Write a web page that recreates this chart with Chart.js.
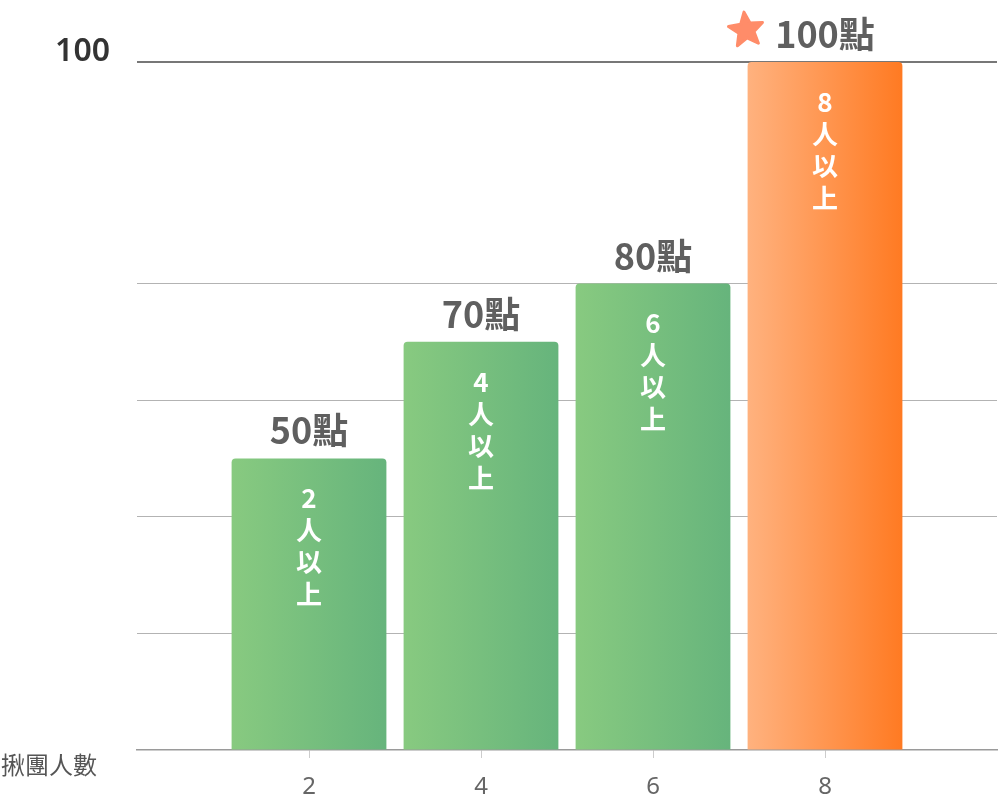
<!DOCTYPE html>
<html>
<head>
<meta charset="utf-8">
<script src="https://cdn.jsdelivr.net/npm/chart.js@4"></script>
<style>
html, body { margin: 0; background: #fff; }
#wrap { width: 1000px; height: 800px; }
</style>
</head>
<body>
<div id="wrap"><canvas id="chart" width="1000" height="800"></canvas></div>
<script>
// 揪團人數 / 點數
const groupSizes = [2, 4, 6, 8];
const points = [50, 70, 80, 100];
// 最後一根長條畫到頂線（圖上刻度是斷開的）
const barHeights = [50, 70, 80, 118];
const barTexts = [["2", "人", "以", "上"], ["4", "人", "以", "上"], ["6", "人", "以", "上"], ["8", "人", "以", "上"]];
const xTickValues = [2, 4, 6, 8];
const xTickLabels = ["2", "4", "6", "8"];
const yTickValues = [0, 20, 40, 60, 80, 118];
const yTickLabels = ["", "", "", "", "", "100"];
const highlightIndex = 3;

const greenStops = ["#88ca80", "#66b47c"];
const orangeStops = ["#ffb27f", "#ff7a22"];
const cjk = '"Noto Sans CJK TC", "Noto Sans", sans-serif';

function barFill(ctx) {
    let chart = ctx.chart;
    let xs = chart.scales.x;
    let stops = ctx.dataIndex === highlightIndex ? orangeStops : greenStops;
    if (!xs || !chart.chartArea || ctx.dataIndex === undefined) return stops[0];
    let cx = xs.getPixelForValue(groupSizes[ctx.dataIndex]);
    let half = 78;
    let g = chart.ctx.createLinearGradient(cx - half, 0, cx + half, 0);
    g.addColorStop(0, stops[0]);
    g.addColorStop(1, stops[1]);
    return g;
}

function drawStar(ctx, cx, cy, outer, inner, color) {
    ctx.save();
    ctx.translate(cx, cy);
    ctx.rotate(-0.12);
    ctx.beginPath();
    for (let i = 0; i < 10; i++) {
        let r = i % 2 === 0 ? outer : inner;
        let a = -Math.PI / 2 + i * Math.PI / 5;
        let px = r * Math.cos(a);
        let py = r * Math.sin(a);
        if (i === 0) ctx.moveTo(px, py); else ctx.lineTo(px, py);
    }
    ctx.closePath();
    ctx.fillStyle = color;
    ctx.strokeStyle = color;
    ctx.lineJoin = "round";
    ctx.lineWidth = 3;
    ctx.fill();
    ctx.stroke();
    ctx.restore();
}

// 長條上方與內部的文字
const barLabelPlugin = {
    id: "barLabels",
    afterDatasetsDraw(chart) {
        let ctx = chart.ctx;
        let meta = chart.getDatasetMeta(0);
        meta.data.forEach((bar, i) => {
            ctx.save();
            ctx.textAlign = "center";
            ctx.textBaseline = "alphabetic";
            ctx.font = "bold 36px " + cjk;
            ctx.fillStyle = "#5f5f5f";
            let label = points[i] + "點";
            ctx.fillText(label, bar.x, bar.y - 14);
            if (i === highlightIndex) {
                let w = ctx.measureText(label).width;
                drawStar(ctx, bar.x - w / 2 - 29, bar.y - 32, 18, 8, "#ff8c69");
            }
            ctx.font = "bold 26px " + cjk;
            ctx.fillStyle = "#ffffff";
            ctx.textBaseline = "middle";
            barTexts[i].forEach((t, k) => {
                ctx.fillText(t, bar.x, bar.y + 40 + k * 32);
            });
            ctx.restore();
        });
    },
    afterDraw(chart) {
        let ctx = chart.ctx;
        ctx.save();
        ctx.font = "24px " + cjk;
        ctx.fillStyle = "#555555";
        ctx.textAlign = "left";
        ctx.textBaseline = "middle";
        ctx.fillText("揪團人數", 1, 765);
        ctx.restore();
    }
};

new Chart(document.getElementById("chart"), {
    type: "bar",
    data: {
        datasets: [{
            data: groupSizes.map((x, i) => ({ x: x, y: barHeights[i] })),
            backgroundColor: barFill,
            borderRadius: 4,
            borderSkipped: "start",
            barPercentage: 0.9,
            categoryPercentage: 1.0
        }]
    },
    options: {
        responsive: false,
        animation: false,
        layout: { padding: { top: 62, right: 3, left: 0, bottom: 0 } },
        plugins: {
            legend: { display: false },
            tooltip: { enabled: false }
        },
        scales: {
            x: {
                type: "linear",
                min: 0,
                max: 10,
                offset: false,
                afterBuildTicks: scale => { scale.ticks = xTickValues.map(v => ({ value: v })); },
                afterFit: scale => { scale.height = 50; },
                ticks: {
                    callback: v => xTickLabels[xTickValues.indexOf(v)],
                    font: { size: 24, family: '"Noto Sans", sans-serif' },
                    color: "#666666",
                    padding: 15,
                    maxRotation: 0,
                    autoSkip: false
                },
                grid: {
                    offset: false,
                    drawOnChartArea: false,
                    drawTicks: true,
                    tickLength: 8,
                    color: "#cccccc"
                },
                border: { color: "#9a9a9a", width: 1.5 }
            },
            y: {
                min: 0,
                max: 118,
                afterBuildTicks: scale => { scale.ticks = yTickValues.map(v => ({ value: v })); },
                afterFit: scale => { scale.width = 137; },
                ticks: {
                    callback: v => yTickLabels[yTickValues.indexOf(v)],
                    font: { size: 32, weight: "600", family: '"Noto Sans", sans-serif' },
                    color: "#333333",
                    padding: 27,
                    labelOffset: -10
                },
                grid: {
                    drawTicks: false,
                    color: c => c.tick && c.tick.value === 118 ? "#777777" : (c.tick && c.tick.value === 0 ? "rgba(0,0,0,0)" : "#b3b3b3"),
                    lineWidth: c => c.tick && c.tick.value === 118 ? 2 : 1
                },
                border: { display: false }
            }
        }
    },
    plugins: [barLabelPlugin]
});
</script>
</body>
</html>
